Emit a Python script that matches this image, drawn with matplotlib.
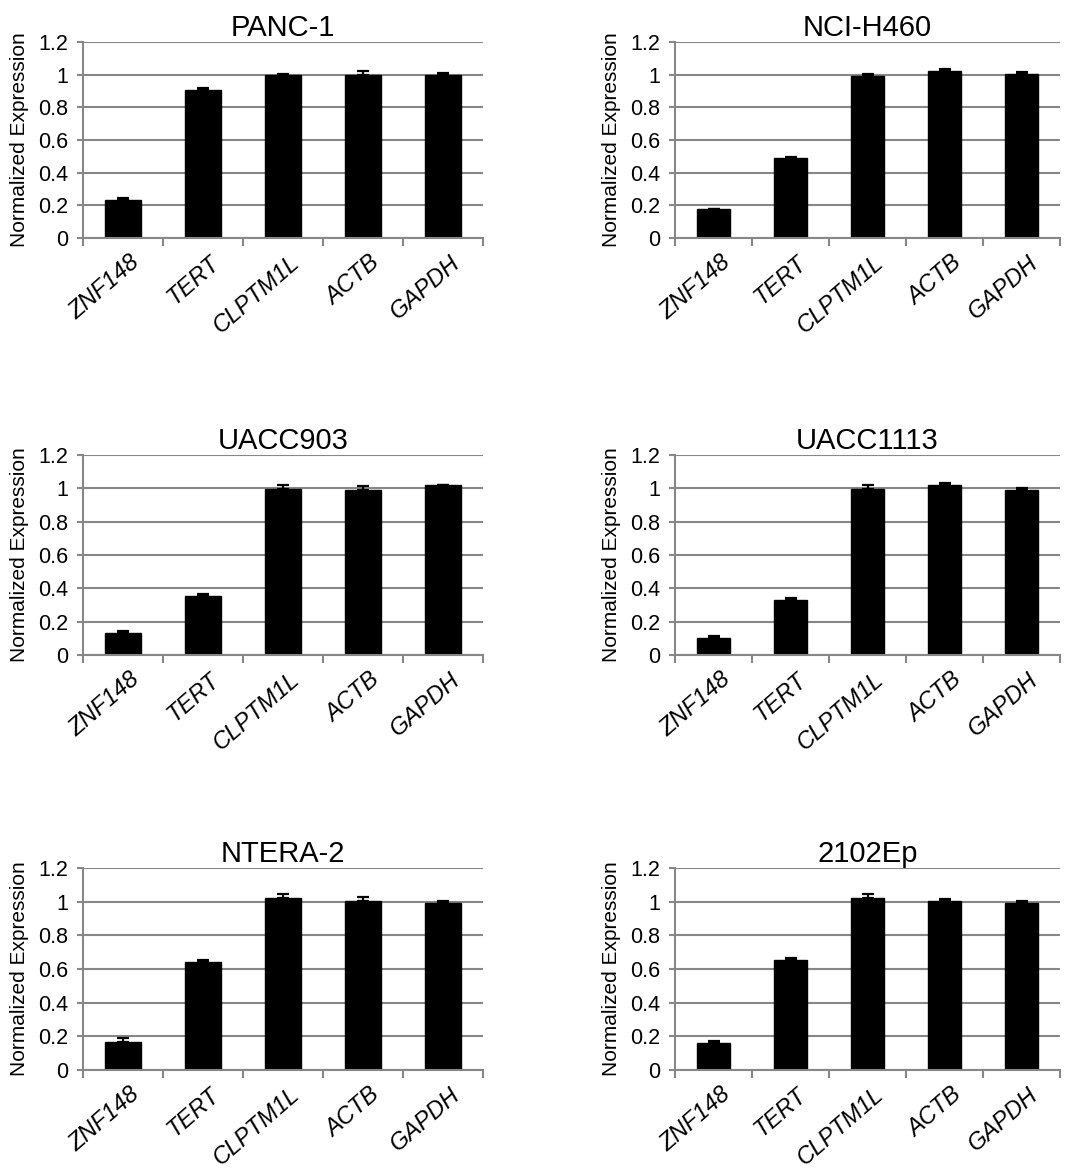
import matplotlib
matplotlib.use("Agg")
import matplotlib.pyplot as plt
import matplotlib.transforms as mtransforms
import numpy as np

plt.rcParams['font.family'] = ['Liberation Sans', 'DejaVu Sans']

genes = ["ZNF148", "TERT", "CLPTM1L", "ACTB", "GAPDH"]
cell_lines = ["PANC-1", "NCI-H460", "UACC903", "UACC1113", "NTERA-2", "2102Ep"]

panc1 = [0.232, 0.905, 1.0, 1.0, 1.0]
panc1_err = [0.014, 0.012, 0.003, 0.025, 0.012]
nci_h460 = [0.177, 0.492, 0.993, 1.022, 1.005]
nci_h460_err = [0.003, 0.003, 0.012, 0.010, 0.010]
uacc903 = [0.134, 0.356, 0.995, 0.993, 1.018]
uacc903_err = [0.010, 0.013, 0.024, 0.024, 0.003]
uacc1113 = [0.103, 0.328, 0.995, 1.020, 0.993]
uacc1113_err = [0.013, 0.013, 0.025, 0.013, 0.011]
ntera2 = [0.164, 0.640, 1.020, 1.004, 0.992]
ntera2_err = [0.026, 0.014, 0.024, 0.025, 0.012]
ep2102 = [0.161, 0.654, 1.019, 1.004, 0.992]
ep2102_err = [0.012, 0.012, 0.024, 0.013, 0.011]

values = [panc1, nci_h460, uacc903, uacc1113, ntera2, ep2102]
errors = [panc1_err, nci_h460_err, uacc903_err, uacc1113_err, ntera2_err, ep2102_err]

W, H = 1078, 1169
fig = plt.figure(figsize=(W / 100, H / 100), dpi=100)

# (left px, right px, top px, bottom px)
boxes = [
    (83, 483, 42, 238), (675, 1060, 42, 238),
    (83, 483, 455, 655), (675, 1060, 455, 655),
    (83, 483, 868, 1070), (675, 1060, 868, 1070),
]

grid_c = "#878787"
x = np.arange(len(genes))
offset = mtransforms.ScaledTranslation(21 / 100, -13 / 100, fig.dpi_scale_trans)

for name, vals, errs, (l, r, t, b) in zip(cell_lines, values, errors, boxes):
    ax = fig.add_axes([l / W, 1 - b / H, (r - l) / W, (b - t) / H])
    ax.set_axisbelow(True)
    ax.yaxis.grid(True, color=grid_c, linewidth=1.5)
    ax.bar(x, vals, width=0.44, color="black", edgecolor="black",
           yerr=[np.zeros(len(vals)), errs], capsize=4,
           error_kw=dict(ecolor="black", elinewidth=1.6, capthick=1.6))
    ax.set_xlim(-0.5, len(genes) - 0.5)
    ax.set_ylim(0, 1.2)
    ax.set_yticks([0, 0.2, 0.4, 0.6, 0.8, 1.0, 1.2])
    ax.set_yticklabels(["0", "0.2", "0.4", "0.6", "0.8", "1", "1.2"], fontsize=15.5)
    ax.set_xticks(x)
    ax.set_xticklabels([])
    xtr = mtransforms.blended_transform_factory(ax.transData, ax.transAxes) + offset
    for xi, g in zip(x, genes):
        ax.text(xi, 0, g, transform=xtr, rotation=41, ha="right", va="top",
                fontsize=17, style="italic", clip_on=False)
    ax.set_xticks(np.arange(-0.5, len(genes)), minor=True)
    ax.tick_params(axis="x", which="major", length=0)
    ax.tick_params(axis="x", which="minor", length=6, width=1.5, color=grid_c, direction="out")
    ax.tick_params(axis="y", length=4.5, width=1.5, color=grid_c, direction="out", pad=6)
    for s in ["top", "right"]:
        ax.spines[s].set_visible(False)
    for s in ["left", "bottom"]:
        ax.spines[s].set_color(grid_c)
        ax.spines[s].set_linewidth(1.5)
    ax.set_ylabel("Normalized Expression", fontsize=15, labelpad=7)
    ax.set_title(name, fontsize=21, pad=4)

fig.savefig("out.png", dpi=100)
